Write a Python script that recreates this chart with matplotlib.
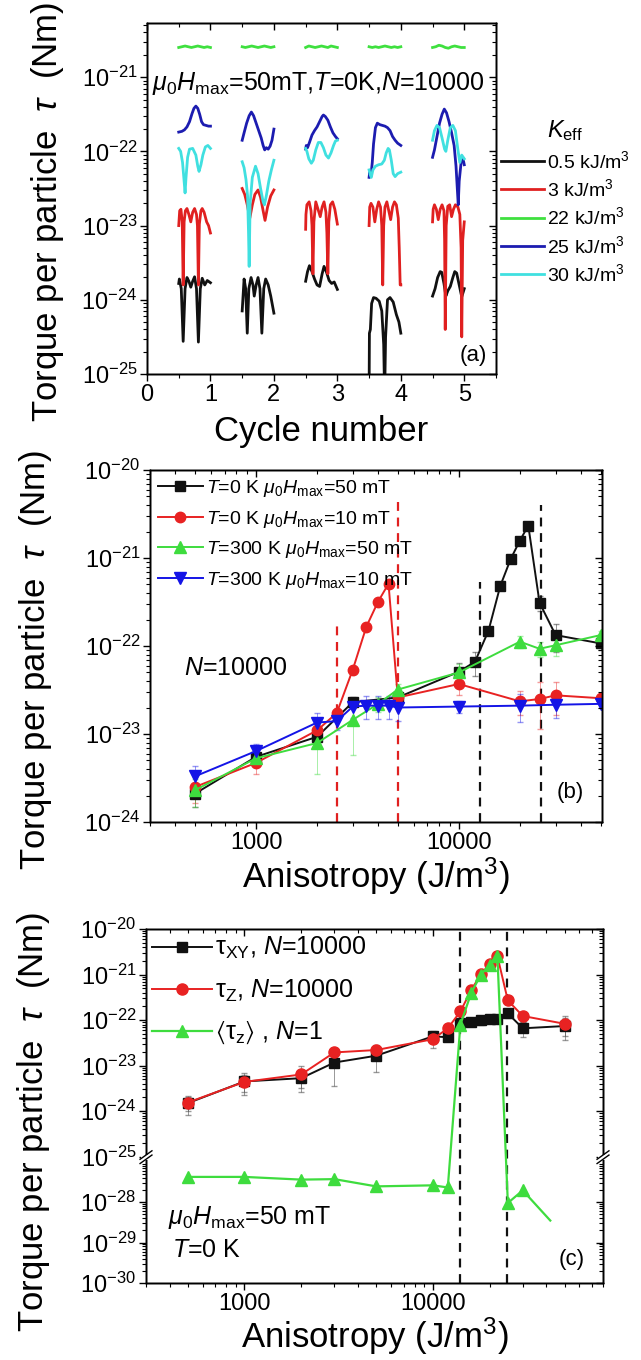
import numpy as np
import matplotlib
matplotlib.use('Agg')
import matplotlib.pyplot as plt
from matplotlib.ticker import FixedLocator, FuncFormatter, NullFormatter, MultipleLocator
from matplotlib.lines import Line2D
from matplotlib.patches import Rectangle

plt.rcParams['font.family'] = ['Liberation Sans', 'DejaVu Sans']
plt.rcParams['mathtext.fontset'] = 'custom'
plt.rcParams['mathtext.rm'] = 'Liberation Sans'
plt.rcParams['mathtext.it'] = 'Liberation Sans:italic'
plt.rcParams['mathtext.bf'] = 'Liberation Sans:bold'
plt.rcParams['mathtext.fallback'] = 'stixsans'
plt.rcParams['axes.linewidth'] = 1.0

# ---------------- panel (a): torque vs cycle number (log10 values) -------------
a_labels = ['0.5 kJ/m$^\\mathregular{3}$', '3 kJ/m$^\\mathregular{3}$', '22 kJ/m$^\\mathregular{3}$',
            '25 kJ/m$^\\mathregular{3}$', '30 kJ/m$^\\mathregular{3}$']
a_colors = ['#111111', '#e02020', '#3fe03f', '#1c1cb0', '#40e0e0']

a_k05 = [
    ([0.50, 0.51, 0.54, 0.57, 0.60, 0.63, 0.66, 0.69, 0.72, 0.75, 0.78, 0.81, 0.84, 0.87, 0.91, 0.95, 1.00],
     [-23.78, -23.72, -23.85, -24.56, -23.85, -23.70, -23.75, -23.83, -23.75, -23.69, -23.85, -24.57, -23.85, -23.71, -23.80, -23.74, -23.77]),
    ([1.50, 1.53, 1.555, 1.58, 1.605, 1.64, 1.67, 1.69, 1.72, 1.75, 1.78, 1.81, 1.84, 1.87, 1.91, 1.95, 2.00],
     [-24.15, -23.72, -23.85, -24.45, -23.85, -23.70, -23.80, -23.95, -23.80, -23.70, -23.85, -24.45, -23.85, -23.72, -23.80, -23.95, -24.18]),
    ([2.50, 2.53, 2.56, 2.60, 2.64, 2.68, 2.72, 2.76, 2.79, 2.83, 2.87, 2.91, 2.95, 3.00],
     [-23.75, -23.62, -23.54, -23.62, -23.72, -23.80, -23.82, -23.65, -23.55, -23.63, -23.74, -23.78, -23.76, -23.86]),
    ([3.50, 3.505, 3.52, 3.54, 3.57, 3.61, 3.66, 3.70, 3.73, 3.745, 3.76, 3.79, 3.83, 3.88, 3.93, 3.97, 4.00],
     [-25.30, -24.45, -24.40, -24.05, -23.97, -23.98, -24.02, -24.15, -24.60, -25.30, -24.50, -24.00, -23.97, -24.03, -24.20, -24.30, -24.45]),
    ([4.50, 4.54, 4.58, 4.62, 4.645, 4.68, 4.71, 4.74, 4.78, 4.82, 4.85, 4.88, 4.92, 4.96, 5.00],
     [-23.95, -23.85, -23.70, -23.62, -23.63, -23.78, -23.95, -23.88, -23.82, -23.70, -23.62, -23.64, -23.80, -23.96, -23.85]),
]
a_k3 = [
    ([0.50, 0.515, 0.535, 0.555, 0.57, 0.585, 0.605, 0.63, 0.66, 0.69, 0.72, 0.75, 0.78, 0.795, 0.81, 0.825, 0.85, 0.87, 0.90, 0.94, 0.97, 1.00],
     [-23.00, -22.80, -22.78, -22.95, -23.80, -22.95, -22.80, -22.77, -22.85, -22.95, -22.82, -22.77, -22.85, -23.00, -23.80, -22.98, -22.80, -22.77, -22.82, -22.95, -23.00, -23.10]),
    ([1.50, 1.54, 1.58, 1.62, 1.66, 1.70, 1.75, 1.79, 1.83, 1.86, 1.90, 1.95, 2.00],
     [-22.50, -22.58, -22.72, -22.90, -22.72, -22.58, -22.52, -22.62, -22.80, -22.93, -22.75, -22.60, -22.52]),
    ([2.50, 2.505, 2.52, 2.555, 2.585, 2.60, 2.615, 2.63, 2.66, 2.695, 2.73, 2.76, 2.79, 2.82, 2.835, 2.85, 2.865, 2.89, 2.925, 2.96, 3.00],
     [-23.05, -22.85, -22.72, -22.68, -22.80, -23.00, -23.65, -22.95, -22.68, -22.78, -22.88, -22.75, -22.68, -22.82, -23.10, -23.65, -22.95, -22.72, -22.68, -22.78, -22.98]),
    ([3.50, 3.51, 3.53, 3.56, 3.59, 3.62, 3.65, 3.68, 3.70, 3.715, 3.73, 3.75, 3.78, 3.81, 3.84, 3.87, 3.90, 3.93, 3.96, 3.975, 3.99, 4.00],
     [-23.00, -22.75, -22.70, -22.75, -22.95, -22.78, -22.68, -22.75, -23.00, -23.80, -23.00, -22.75, -22.68, -22.80, -22.92, -22.75, -22.68, -22.72, -22.90, -23.30, -23.80, -23.80]),
    ([4.50, 4.51, 4.53, 4.56, 4.59, 4.62, 4.65, 4.68, 4.69, 4.70, 4.715, 4.74, 4.77, 4.80, 4.83, 4.86, 4.90, 4.93, 4.95, 4.96, 4.975, 5.00],
     [-22.95, -22.78, -22.72, -22.78, -22.92, -22.78, -22.72, -22.80, -23.20, -24.40, -23.00, -22.74, -22.72, -22.88, -22.78, -22.72, -22.75, -22.85, -23.30, -24.50, -23.20, -22.95]),
]
a_k22 = [
    ([0.50, 0.55, 0.60, 0.65, 0.70, 0.75, 0.80, 0.85, 0.90, 0.95, 1.00],
     [-20.60, -20.59, -20.58, -20.59, -20.60, -20.59, -20.58, -20.59, -20.60, -20.59, -20.60]),
    ([1.50, 1.55, 1.60, 1.65, 1.70, 1.75, 1.80, 1.85, 1.90, 1.95, 2.00],
     [-20.59, -20.60, -20.59, -20.58, -20.59, -20.60, -20.59, -20.58, -20.59, -20.60, -20.59]),
    ([2.50, 2.55, 2.60, 2.65, 2.70, 2.75, 2.80, 2.85, 2.90, 2.95, 3.00],
     [-20.60, -20.58, -20.59, -20.60, -20.59, -20.58, -20.59, -20.60, -20.58, -20.59, -20.60]),
    ([3.50, 3.55, 3.60, 3.65, 3.70, 3.75, 3.80, 3.85, 3.90, 3.95, 4.00],
     [-20.59, -20.60, -20.59, -20.60, -20.59, -20.58, -20.59, -20.60, -20.59, -20.60, -20.59]),
    ([4.50, 4.55, 4.60, 4.65, 4.70, 4.75, 4.80, 4.85, 4.90, 4.95, 5.00],
     [-20.60, -20.59, -20.57, -20.58, -20.60, -20.61, -20.59, -20.58, -20.59, -20.60, -20.60]),
]
a_k25 = [
    ([0.50, 0.55, 0.59, 0.63, 0.67, 0.71, 0.74, 0.77, 0.80, 0.83, 0.86, 0.89, 0.93, 0.97, 1.00],
     [-21.74, -21.73, -21.71, -21.67, -21.60, -21.49, -21.42, -21.39, -21.42, -21.50, -21.60, -21.64, -21.65, -21.66, -21.66]),
    ([1.50, 1.53, 1.57, 1.61, 1.645, 1.68, 1.72, 1.76, 1.80, 1.83, 1.855, 1.88, 1.91, 1.94, 1.97, 2.00],
     [-21.85, -21.75, -21.62, -21.52, -21.47, -21.52, -21.62, -21.72, -21.82, -21.92, -21.98, -21.95, -21.97, -21.93, -21.85, -21.70]),
    ([2.50, 2.51, 2.53, 2.56, 2.60, 2.64, 2.68, 2.72, 2.76, 2.78, 2.81, 2.85, 2.89, 2.93, 2.97, 3.00],
     [-21.97, -21.92, -21.95, -21.88, -21.78, -21.72, -21.67, -21.60, -21.53, -21.51, -21.53, -21.58, -21.67, -21.75, -21.80, -21.83]),
    ([3.50, 3.51, 3.53, 3.55, 3.57, 3.60, 3.63, 3.67, 3.71, 3.75, 3.79, 3.83, 3.87, 3.91, 3.95, 4.00],
     [-22.35, -22.28, -22.32, -22.15, -21.90, -21.68, -21.62, -21.64, -21.65, -21.66, -21.68, -21.72, -21.80, -21.85, -21.89, -21.92]),
    ([4.50, 4.53, 4.57, 4.61, 4.65, 4.685, 4.72, 4.76, 4.80, 4.84, 4.87, 4.89, 4.905, 4.92, 4.95, 4.98, 5.00],
     [-22.08, -21.98, -21.80, -21.62, -21.50, -21.43, -21.48, -21.60, -21.75, -21.92, -22.20, -22.50, -22.72, -22.40, -22.15, -22.10, -22.18]),
]
a_k30 = [
    ([0.50, 0.53, 0.56, 0.58, 0.60, 0.615, 0.64, 0.67, 0.72, 0.77, 0.80, 0.82, 0.85, 0.88, 0.92, 0.96, 1.00],
     [-21.96, -22.00, -22.15, -22.35, -22.56, -22.35, -22.08, -21.97, -21.96, -22.05, -22.20, -22.27, -22.18, -22.05, -21.94, -21.92, -21.96]),
    ([1.50, 1.53, 1.56, 1.585, 1.60, 1.61, 1.625, 1.66, 1.71, 1.75, 1.79, 1.83, 1.85, 1.88, 1.92, 1.96, 2.00],
     [-22.14, -22.22, -22.38, -22.60, -23.10, -23.55, -22.70, -22.35, -22.20, -22.30, -22.50, -22.68, -22.72, -22.60, -22.40, -22.25, -22.12]),
    ([2.50, 2.52, 2.55, 2.59, 2.62, 2.66, 2.70, 2.74, 2.78, 2.82, 2.86, 2.90, 2.94, 2.97, 3.00],
     [-21.96, -22.00, -22.10, -22.16, -22.12, -21.98, -21.88, -21.88, -21.95, -22.05, -22.09, -22.02, -21.92, -21.86, -21.85]),
    ([3.50, 3.52, 3.535, 3.56, 3.60, 3.65, 3.70, 3.74, 3.77, 3.80, 3.82, 3.85, 3.88, 3.91, 3.95, 4.00],
     [-22.25, -22.32, -22.35, -22.25, -22.20, -22.18, -22.17, -22.12, -22.02, -21.96, -21.98, -22.12, -22.30, -22.34, -22.30, -22.28]),
    ([4.50, 4.53, 4.57, 4.61, 4.65, 4.69, 4.71, 4.74, 4.78, 4.82, 4.86, 4.90, 4.93, 4.96, 5.00],
     [-21.85, -21.72, -21.65, -21.68, -21.82, -21.97, -22.00, -21.85, -21.68, -21.65, -21.72, -21.98, -22.15, -22.05, -22.10]),
]
a_series = [a_k05, a_k3, a_k22, a_k25, a_k30]

# ---------------- panel (b) ----------------
b_labels = [r'$T$=0 K $\mu_0H_\mathregular{max}$=50 mT', r'$T$=0 K $\mu_0H_\mathregular{max}$=10 mT',
            r'$T$=300 K $\mu_0H_\mathregular{max}$=50 mT', r'$T$=300 K $\mu_0H_\mathregular{max}$=10 mT']
b_K_black = [500, 1000, 2000, 3000, 5000, 10000, 12000, 14000, 16000, 18000, 20000, 22000, 25000, 30000, 50000]
b_tau_black = [2.1e-24, 5.5e-24, 9.3e-24, 2.3e-23, 2.6e-23, 5.1e-23, 6.6e-23, 1.49e-22, 4.8e-22, 9.7e-22,
               1.58e-21, 2.33e-21, 3.1e-22, 1.33e-22, 1.07e-22]
b_err_black = [0.3, 0.15, 0.2, 0.15, 0.15, 0.25, 0.3, 0.1, 0.1, 0.1, 0.1, 0.1, 0.2, 0.35, 0.15]
b_K_red = [500, 1000, 2000, 2500, 3000, 3500, 4000, 4500, 5000, 10000, 20000, 25000, 30000, 50000]
b_tau_red = [2.5e-24, 4.7e-24, 1.1e-23, 1.73e-23, 5.4e-23, 1.66e-22, 3.2e-22, 5.1e-22, 2.6e-23, 3.7e-23,
             2.35e-23, 2.5e-23, 2.75e-23, 2.55e-23]
b_err_red = [0.35, 0.25, 0.35, 0.15, 0.1, 0.1, 0.1, 0.1, 0.2, 0.25, 0.3, 0.55, 0.4, 0.1]
b_K_green = [500, 1000, 2000, 3000, 4000, 5000, 10000, 20000, 25000, 30000, 50000]
b_tau_green = [2.3e-24, 5.3e-24, 7.9e-24, 1.45e-23, 2.2e-23, 3.2e-23, 5.0e-23, 1.12e-22, 9.3e-23, 1.02e-22, 1.33e-22]
b_err_green = [0.35, 0.2, 0.55, 0.6, 0.2, 0.15, 0.25, 0.15, 0.2, 0.25, 0.1]
b_K_blue = [500, 1000, 2000, 2500, 3000, 3500, 4000, 4500, 5000, 10000, 20000, 30000, 50000]
b_tau_blue = [3.3e-24, 6.4e-24, 1.35e-23, 1.4e-23, 2.05e-23, 2.1e-23, 2.1e-23, 2.1e-23, 2.0e-23, 2.05e-23,
              2.1e-23, 2.15e-23, 2.2e-23]
b_err_blue = [0.3, 0.2, 0.3, 0.2, 0.25, 0.3, 0.3, 0.3, 0.3, 0.15, 0.35, 0.3, 0.1]
b_red_vK = [2500, 5000]
b_red_vtop = [1.74e-22, 4.8e-21]
b_black_vK = [12700, 25500]
b_black_vtop = [5.4e-22, 4.0e-21]

# ---------------- panel (c) ----------------
c_labels = ['τ$_\\mathregular{XY}$, $N$=10000', 'τ$_\\mathregular{Z}$, $N$=10000',
            '$\\langle$τ$_\\mathregular{z}\\rangle$ , $N$=1']
c_K = [500, 1000, 2000, 3000, 5000, 10000, 12000, 14000, 16000, 18000, 20000, 22000, 25000, 30000, 50000]
c_tau_xy = [1.5e-24, 4.5e-24, 5.3e-24, 1.17e-23, 1.65e-23, 4.4e-23, 4.2e-23, 8.5e-23, 9.3e-23, 1.0e-22,
            1.04e-22, 1.07e-22, 1.4e-22, 6.6e-23, 7.4e-23]
c_err_xy = [0.45, 0.5, 0.5, 0.7, 0.55, 0.3, 0.15, 0.15, 0.2, 0.2, 0.15, 0.15, 0.2, 0.35, 0.5]
c_tau_z = [1.55e-24, 4.4e-24, 6.4e-24, 1.95e-23, 2.2e-23, 3.8e-23, 6.6e-23, 1.55e-22, 4.6e-22, 1.02e-21,
           1.7e-21, 2.55e-21, 2.7e-22, 1.23e-22, 8.3e-23]
c_err_z = [0.35, 0.4, 0.5, 0.2, 0.3, 0.35, 0.15, 0.1, 0.1, 0.1, 0.1, 0.1, 0.15, 0.25, 0.45]
c_K_n1 = [500, 1000, 2000, 3000, 5000, 10000, 12000, 14000, 16000, 18000, 20000, 22000, 25000, 30000, 42000]
c_tau_n1 = [4.2e-28, 4.2e-28, 3.6e-28, 3.7e-28, 2.45e-28, 2.6e-28, 2.3e-28, 8.0e-23, 4.0e-22, 1.0e-21,
            1.65e-21, 2.6e-21, 9.5e-29, 1.95e-28, 3.5e-29]
c_vK = [13900, 24800]

# ---------------- helpers ----------------
def pow10(v, pos):
    return r'$\mathregular{10^{%d}}$' % int(round(np.log10(v)))

def plain(v, pos):
    return '%d' % int(round(v))

TICK_FS = 17

def style_main(ax):
    ax.tick_params(which='major', direction='out', length=5, width=1, labelsize=TICK_FS, pad=2)
    ax.tick_params(which='minor', direction='out', length=3, width=0.8)

def mirror(ax, xscale, xlim, xmaj, xmin, yscale, ylim, ymaj, ymin, yfunc=None):
    axr = ax.twinx()
    if yfunc is not None:
        axr.set_yscale('function', functions=yfunc)
    else:
        axr.set_yscale(yscale)
    axr.set_ylim(ylim)
    axr.yaxis.set_major_locator(FixedLocator(ymaj))
    axr.yaxis.set_minor_locator(FixedLocator(ymin))
    axr.yaxis.set_major_formatter(NullFormatter())
    axr.yaxis.set_minor_formatter(NullFormatter())
    axr.tick_params(axis='y', which='major', direction='in', length=5, width=1)
    axr.tick_params(axis='y', which='minor', direction='in', length=3, width=0.8)
    axt = ax.twiny()
    axt.set_xscale(xscale)
    axt.set_xlim(xlim)
    axt.xaxis.set_major_locator(FixedLocator(xmaj))
    axt.xaxis.set_minor_locator(FixedLocator(xmin))
    axt.xaxis.set_major_formatter(NullFormatter())
    axt.xaxis.set_minor_formatter(NullFormatter())
    axt.tick_params(axis='x', which='major', direction='in', length=5, width=1)
    axt.tick_params(axis='x', which='minor', direction='in', length=3, width=0.8)

def log_minors(lo, hi):
    out = []
    for d in range(lo, hi):
        for k in range(2, 10):
            out.append(k * 10.0 ** d)
    return out

fig = plt.figure(figsize=(6.41, 13.60), dpi=100, facecolor='white')
W, H = 641.0, 1360.0
ax_a = fig.add_axes([147 / W, 1 - 374 / H, 349 / W, 351 / H])
ax_b = fig.add_axes([150 / W, 1 - 822 / H, 452 / W, 352 / H])
ax_c = fig.add_axes([146 / W, 1 - 1283 / H, 457 / W, 354 / H])

# ================= (a) =================
for segs, col in zip(a_series, a_colors):
    for xs, es in segs:
        ax_a.plot(xs, 10.0 ** np.array(es), color=col, lw=2.0, solid_joinstyle='round')
ax_a.set_yscale('log')
a_ylim = (1e-25, 10 ** -20.27)
ax_a.set_xlim(0, 5.5)
ax_a.set_ylim(a_ylim)
a_ymaj = [1e-25, 1e-24, 1e-23, 1e-22, 1e-21]
a_ymin = log_minors(-25, -20)
ax_a.yaxis.set_major_locator(FixedLocator(a_ymaj))
ax_a.yaxis.set_minor_locator(FixedLocator(a_ymin))
ax_a.yaxis.set_major_formatter(FuncFormatter(pow10))
ax_a.yaxis.set_minor_formatter(NullFormatter())
ax_a.xaxis.set_major_locator(MultipleLocator(1))
ax_a.xaxis.set_minor_locator(MultipleLocator(0.5))
style_main(ax_a)
mirror(ax_a, 'linear', (0, 5.5), [0, 1, 2, 3, 4, 5], [0.5, 1.5, 2.5, 3.5, 4.5, 5.5],
       'log', a_ylim, a_ymaj, a_ymin)
ax_a.text(0.014, 0.809, r'$\mu_0H_\mathregular{max}$=50mT,$T$=0K,$N$=10000', transform=ax_a.transAxes,
          fontsize=18, ha='left', va='baseline')
ax_a.text(0.934, 0.054, '(a)', transform=ax_a.transAxes, fontsize=16, ha='center', va='center')
a_handles = [Line2D([], [], color=c, lw=2.0) for c in a_colors]
leg_a = ax_a.legend(a_handles, a_labels, title=r'$K_\mathregular{eff}$', loc='upper left',
                    bbox_to_anchor=(1.015, 0.728), frameon=False, fontsize=14, title_fontsize=17,
                    handlelength=2.2, handletextpad=0.15, labelspacing=0.33, borderaxespad=0, borderpad=0)
fig.text(48 / W, 1 - 212 / H, r'Torque per particle  $\tau$  (Nm)', rotation=90, fontsize=25,
         ha='center', va='center')
fig.text(321.5 / W, 1 - 432 / H, 'Cycle number', fontsize=25, ha='center', va='center')

# ================= (b) =================
b_sets = [(b_K_black, b_tau_black, b_err_black, '#111111', 's', 6.5),
          (b_K_red, b_tau_red, b_err_red, '#e82222', 'o', 7.5),
          (b_K_green, b_tau_green, b_err_green, '#3edc3e', '^', 8),
          (b_K_blue, b_tau_blue, b_err_blue, '#1414e6', 'v', 8)]
for xv, yv in zip(b_red_vK, b_red_vtop):
    ax_b.vlines(xv, 1e-24, yv, colors='#e02020', linestyles=(0, (4, 3)), lw=1.6, zorder=1)
for xv, yv in zip(b_black_vK, b_black_vtop):
    ax_b.vlines(xv, 1e-24, yv, colors='#111111', linestyles=(0, (4, 3)), lw=1.6, zorder=1)
for (K, t, e, col, mk, ms), lab in zip(b_sets, b_labels):
    t = np.array(t); e = np.array(e) * t
    ax_b.errorbar(K, t, yerr=e, fmt='none', ecolor=col, elinewidth=0.7, capsize=2.5, alpha=0.45, zorder=2)
    ax_b.plot(K, t, color=col, lw=1.4, marker=mk, ms=ms, mec=col, mfc=col, label=lab, zorder=3)
ax_b.set_xscale('log'); ax_b.set_yscale('log')
b_xlim = (300, 50800); b_ylim = (1e-24, 1e-20)
ax_b.set_xlim(b_xlim); ax_b.set_ylim(b_ylim)
kx_maj = [1000, 10000]
kx_min = [300, 400, 500, 600, 700, 800, 900, 2000, 3000, 4000, 5000, 6000, 7000, 8000, 9000,
          20000, 30000, 40000, 50000, 60000, 70000, 80000]
b_ymaj = [1e-24, 1e-23, 1e-22, 1e-21, 1e-20]
b_ymin = log_minors(-24, -20)
ax_b.xaxis.set_major_locator(FixedLocator(kx_maj))
ax_b.xaxis.set_minor_locator(FixedLocator(kx_min))
ax_b.xaxis.set_major_formatter(FuncFormatter(plain))
ax_b.xaxis.set_minor_formatter(NullFormatter())
ax_b.yaxis.set_major_locator(FixedLocator(b_ymaj))
ax_b.yaxis.set_minor_locator(FixedLocator(b_ymin))
ax_b.yaxis.set_major_formatter(FuncFormatter(pow10))
ax_b.yaxis.set_minor_formatter(NullFormatter())
style_main(ax_b)
ax_b.legend(loc='upper left', bbox_to_anchor=(0.0, 1.0), frameon=False, fontsize=14, handlelength=2.3,
            handletextpad=0.2, labelspacing=0.5, borderaxespad=0.3, borderpad=0.1)
mirror(ax_b, 'log', b_xlim, kx_maj, kx_min, 'log', b_ylim, b_ymaj, b_ymin)
ax_b.text(0.075, 0.4375, r'$N$=10000', transform=ax_b.transAxes, fontsize=18, ha='left', va='center')
ax_b.text(0.929, 0.085, '(b)', transform=ax_b.transAxes, fontsize=16, ha='center', va='center')
fig.text(36 / W, 1 - 660 / H, r'Torque per particle  $\tau$  (Nm)', rotation=90, fontsize=25,
         ha='center', va='center')
fig.text(376 / W, 1 - 876 / H, r'Anisotropy (J/m$^\mathregular{3}$)', fontsize=25, ha='center', va='center')

# ================= (c) broken log axis =================
def _fwd(y):
    lv = np.log10(np.clip(np.asarray(y, dtype=float), 1e-300, None))
    return np.where(lv >= -25, lv + 25,
                    np.where(lv >= -26.9, (lv + 25) / 1.9 * 0.02, -0.02 + (lv + 26.9) * 0.888))

def _inv(u):
    u = np.asarray(u, dtype=float)
    lv = np.where(u >= 0, u - 25, np.where(u >= -0.02, -25 + u / 0.02 * 1.9, -26.9 + (u + 0.02) / 0.888))
    return 10.0 ** lv

for xv in c_vK:
    ax_c.axvline(xv, color='#111111', ls=(0, (4, 3)), lw=1.6, zorder=1)
c_sets = [(c_K, c_tau_xy, c_err_xy, '#111111', 's', 6.5),
          (c_K, c_tau_z, c_err_z, '#e82222', 'o', 8)]
for (K, t, e, col, mk, ms), lab in zip(c_sets, c_labels[:2]):
    t = np.array(t); e = np.array(e) * t
    ax_c.errorbar(K, t, yerr=e, fmt='none', ecolor='#555555', elinewidth=0.7, capsize=2.5, alpha=0.6, zorder=2)
    ax_c.plot(K, t, color=col, lw=1.4, marker=mk, ms=ms, mec=col, mfc=col, label=lab, zorder=3)
ax_c.plot(c_K_n1, c_tau_n1, color='#3edc3e', lw=1.6, marker='^', ms=8, mec='#3edc3e', mfc='#3edc3e',
          markevery=list(range(len(c_K_n1) - 1)), label=c_labels[2], zorder=4)
ax_c.set_xscale('log')
ax_c.set_yscale('function', functions=(_fwd, _inv))
c_xlim = (300, 80000); c_ylim = (1e-30, 1e-20)
ax_c.set_xlim(c_xlim); ax_c.set_ylim(c_ylim)
c_ymaj = [1e-30, 1e-29, 1e-28, 1e-25, 1e-24, 1e-23, 1e-22, 1e-21, 1e-20]
c_ymin = log_minors(-30, -28) + [k * 1e-28 for k in range(2, 10)] + log_minors(-25, -20)
ax_c.xaxis.set_major_locator(FixedLocator(kx_maj))
ax_c.xaxis.set_minor_locator(FixedLocator(kx_min))
ax_c.xaxis.set_major_formatter(FuncFormatter(plain))
ax_c.xaxis.set_minor_formatter(NullFormatter())
ax_c.yaxis.set_major_locator(FixedLocator(c_ymaj))
ax_c.yaxis.set_minor_locator(FixedLocator(c_ymin))
ax_c.yaxis.set_major_formatter(FuncFormatter(pow10))
ax_c.yaxis.set_minor_formatter(NullFormatter())
style_main(ax_c)
ax_c.legend(loc='upper left', bbox_to_anchor=(0.0, 1.0), frameon=False, fontsize=18, handlelength=2.4,
            handletextpad=0.1, labelspacing=0.65, borderaxespad=0.15, borderpad=0.1)
mirror(ax_c, 'log', c_xlim, kx_maj, kx_min, None, c_ylim, c_ymaj, c_ymin, yfunc=(_fwd, _inv))
ax_c.text(0.048, 0.184, r'$\mu_0H_\mathregular{max}$=50 mT', transform=ax_c.transAxes, fontsize=18,
          ha='left', va='center')
ax_c.text(0.057, 0.093, r'$T$=0 K', transform=ax_c.transAxes, fontsize=18, ha='left', va='center')
ax_c.text(0.932, 0.065, '(c)', transform=ax_c.transAxes, fontsize=16, ha='center', va='center')

# break marks on both spines
u_lo, u_hi = _fwd(1e-30), _fwd(1e-20)
yb = (-0.01 - u_lo) / (u_hi - u_lo)
for xs in (0.0, 1.0):
    fig.add_artist(Rectangle((xs - 0.012, yb - 0.007), 0.024, 0.014, transform=ax_c.transAxes,
                             facecolor='white', edgecolor='none', zorder=5))
    for dy in (-0.006, 0.006):
        fig.add_artist(Line2D([xs - 0.013, xs + 0.013], [yb + dy - 0.012, yb + dy + 0.012],
                              transform=ax_c.transAxes, color='black', lw=1.0, zorder=6))
fig.text(34 / W, 1 - 1122 / H, r'Torque per particle  $\tau$  (Nm)', rotation=90, fontsize=25,
         ha='center', va='center')
fig.text(374.5 / W, 1 - 1336 / H, r'Anisotropy (J/m$^\mathregular{3}$)', fontsize=25, ha='center', va='center')

fig.savefig('out.png', dpi=100, facecolor='white')
